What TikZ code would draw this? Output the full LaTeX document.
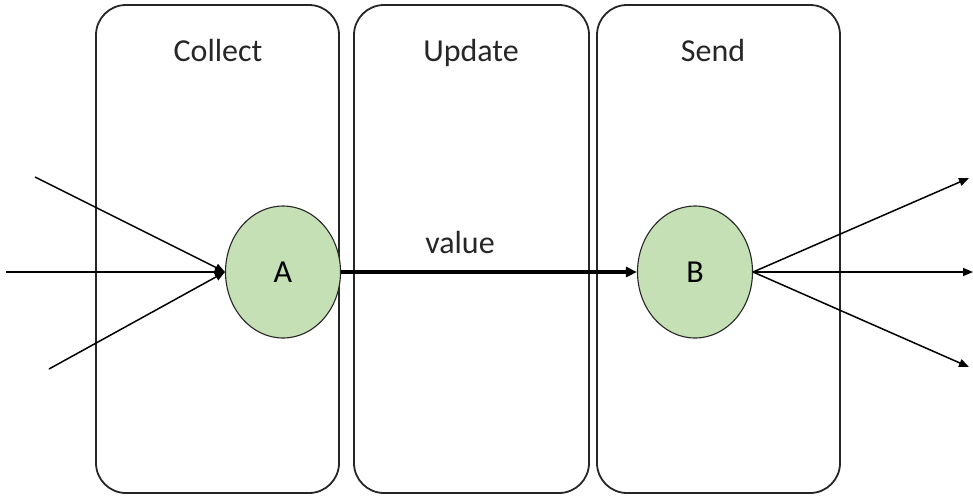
\documentclass[tikz,border=0pt]{standalone}
\usepackage{fontspec}
\setmainfont{Carlito}
\usetikzlibrary{shapes.geometric,arrows.meta}
\definecolor{nodegreen}{HTML}{C5E0B4}
\definecolor{linegray}{HTML}{262626}
\begin{document}
\begin{tikzpicture}[x=1pt,y=-1pt,
  stage/.style={draw=linegray,line width=1.8pt,rounded corners=30pt},
  lbl/.style={font=\fontsize{32}{38}\selectfont,text=linegray,inner sep=0pt,anchor=base},
  vertex/.style={ellipse,draw=linegray,line width=1.1pt,fill=nodegreen,minimum width=115pt,minimum height=132pt,inner sep=0pt,font=\fontsize{32}{38}\selectfont},
  tip/.style={-{Triangle[length=10pt,width=8pt]}},
  thin arrow/.style={tip,line width=1.5pt,draw=black},
  thick arrow/.style={-{Triangle[length=11pt,width=10pt]},line width=3.2pt,draw=black}]
\useasboundingbox (0,0) rectangle (973,496);
\draw[stage] (96,5) rectangle (339,493);
\draw[stage] (354,5) rectangle (589,493);
\draw[stage] (597,5) rectangle (840,493);
\node[lbl] (tc) at (218,61) {Collect};
\node[lbl] (tu) at (471,61) {Update};
\node[lbl] (ts) at (713,61) {Send};
\node[vertex] (A) at (283,272) {A};
\node[vertex] (B) at (695,272) {B};
\node[lbl] (val) at (460,253) {value};
\coordinate (i1) at (35,177);
\coordinate (i2) at (6,272);
\coordinate (i3) at (49,369);
\coordinate (o1) at (969,178);
\coordinate (o2) at (973,272);
\coordinate (o3) at (969,367);
\draw[thin arrow] (i1) -- (A.west);
\draw[thin arrow] (i2) -- (A.west);
\draw[thin arrow] (i3) -- (A.west);
\draw[thick arrow] (A.east) -- (B.west);
\draw[thin arrow] (B.east) -- (o1);
\draw[thin arrow] (B.east) -- (o2);
\draw[thin arrow] (B.east) -- (o3);
\end{tikzpicture}
\end{document}
